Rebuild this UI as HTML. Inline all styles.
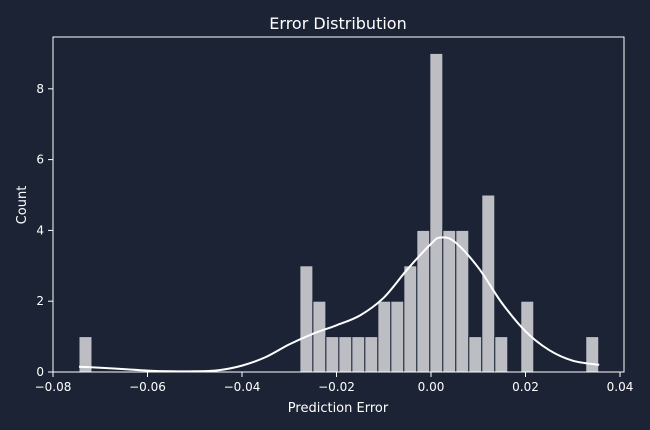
<!DOCTYPE html>
<html><head><meta charset="utf-8"><style>
body{margin:0;background:#1b2335;}
svg{display:block;font-family:"DejaVu Sans","Liberation Sans",sans-serif;}
</style></head><body>
<svg id="chart" width="650" height="430">
<rect width="650" height="430" fill="#1b2335"/>
<text x="338" y="29" fill="#fff" font-size="16" text-anchor="middle">Error Distribution</text>
<text x="338" y="412" fill="#fff" font-size="13" text-anchor="middle">Prediction Error</text>
<text x="26" y="205" fill="#fff" font-size="13" text-anchor="middle" transform="rotate(-90 26 205)">Count</text>
<g id="bars"></g><g id="axes"></g>
<rect x="53" y="37" width="571" height="335" fill="none" stroke="#fff" stroke-width="1"/>
</svg>
<script>
const binStart = -0.0745;
const binWidth = 0.00275;
const counts = [1,0,0,0,0,0,0,0,0,0,0,0,0,0,0,0,0,3,2,1,1,1,1,2,2,3,4,9,4,4,1,5,1,0,2,0,0,0,0,1];
const kdeX = [-0.0745,-0.07,-0.065,-0.06,-0.055,-0.05,-0.045,-0.04,-0.035,-0.03,-0.025,-0.02,-0.015,-0.01,-0.005,0,0.002,0.005,0.01,0.015,0.02,0.025,0.03,0.0356];
const kdeY = [0.15,0.12,0.08,0.04,0.02,0.02,0.05,0.18,0.42,0.78,1.08,1.32,1.6,2.1,2.9,3.62,3.8,3.68,2.95,1.95,1.15,0.62,0.32,0.2];
const xTicks = [-0.08,-0.06,-0.04,-0.02,0.00,0.02,0.04];
const xTickLabels = ["−0.08","−0.06","−0.04","−0.02","0.00","0.02","0.04"];
const yTicks = [0,2,4,6,8];
const NS="http://www.w3.org/2000/svg";
const X = v => 431 + v*4725;
const Y = v => 372 - v*35.4;
const bars=document.getElementById('bars'), axes=document.getElementById('axes');
counts.forEach((c,i)=>{ if(!c) return;
  const r=document.createElementNS(NS,'rect');
  const x0=X(binStart+i*binWidth), x1=X(binStart+(i+1)*binWidth);
  r.setAttribute('x',x0);r.setAttribute('y',Y(c));r.setAttribute('width',x1-x0);r.setAttribute('height',Y(0)-Y(c));
  r.setAttribute('fill','#bdbec4');r.setAttribute('stroke','#1b2335');r.setAttribute('stroke-width','1');
  
  
  bars.appendChild(r);});
const pts=kdeX.map((x,i)=>[X(x),Y(kdeY[i])]);
let d='M'+pts[0][0]+' '+pts[0][1];
for(let i=0;i<pts.length-1;i++){
  const p0=pts[Math.max(0,i-1)],p1=pts[i],p2=pts[i+1],p3=pts[Math.min(pts.length-1,i+2)];
  const c1=[p1[0]+(p2[0]-p0[0])/6,p1[1]+(p2[1]-p0[1])/6];
  const c2=[p2[0]-(p3[0]-p1[0])/6,p2[1]-(p3[1]-p1[1])/6];
  d+=' C'+c1[0]+' '+c1[1]+' '+c2[0]+' '+c2[1]+' '+p2[0]+' '+p2[1];
}
const p=document.createElementNS(NS,'path');
p.setAttribute('d',d);
p.setAttribute('fill','none');p.setAttribute('stroke','#fff');p.setAttribute('stroke-width','2');


bars.appendChild(p);
xTicks.forEach((t,i)=>{
  const l=document.createElementNS(NS,'line');
  l.setAttribute('x1',X(t));l.setAttribute('x2',X(t));l.setAttribute('y1',372);l.setAttribute('y2',377);l.setAttribute('stroke','#fff');
  
  
  axes.appendChild(l);
  const tx=document.createElementNS(NS,'text');
  tx.setAttribute('x',X(t));tx.setAttribute('y',391);tx.setAttribute('fill','#fff');tx.setAttribute('font-size','12');tx.setAttribute('text-anchor','middle');
  tx.textContent=xTickLabels[i];
  
  
  axes.appendChild(tx);});
yTicks.forEach(t=>{
  const l=document.createElementNS(NS,'line');
  l.setAttribute('x1',48);l.setAttribute('x2',53);l.setAttribute('y1',Y(t));l.setAttribute('y2',Y(t));l.setAttribute('stroke','#fff');
  
  
  axes.appendChild(l);
  const tx=document.createElementNS(NS,'text');
  tx.setAttribute('x',44);tx.setAttribute('y',Y(t)+4);tx.setAttribute('fill','#fff');tx.setAttribute('font-size','12');tx.setAttribute('text-anchor','end');
  tx.textContent=t;
  
  
  axes.appendChild(tx);});
</script>
</body></html>
